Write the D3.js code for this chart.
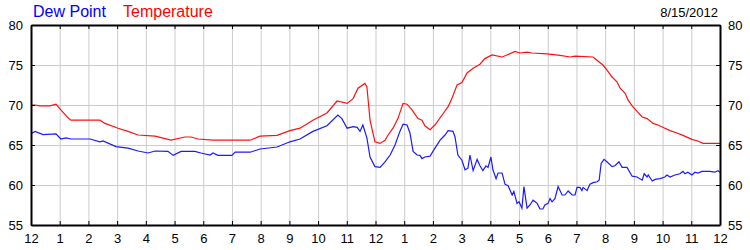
<!DOCTYPE html>
<head>
  <meta charset="utf-8">
  <script src="https://d3js.org/d3.v7.min.js"></script>
  <style>
    body { margin:0; background:white; }
    svg { display:block; font-family:"Liberation Sans", Arial, sans-serif; }
    .grid line { stroke:#cccccc; stroke-width:1; }
    .grid .domain { display:none; }
    .frame .domain { stroke:black; stroke-width:2; }
    .frame line { stroke:black; stroke-width:1; }
    .frame text { font-size:13px; fill:black; }
  </style>
</head>
<body>
<script>
// hours after midnight, 8/15/2012
var tempHours = [0,0.14,0.31,0.66,0.87,1.04,1.29,1.39,2.40,2.58,3.03,3.38,3.73,4.32,4.88,5.36,5.57,5.82,6.34,7.63,
  7.98,8.57,9.02,9.37,9.82,10.31,10.66,11.01,11.22,11.39,11.63,11.70,11.81,11.98,12.16,12.33,12.44,12.61,12.78,12.96,
  13.10,13.27,13.48,13.62,13.72,13.90,14.07,14.32,14.53,14.66,14.84,15.01,15.19,15.40,15.64,15.81,16.06,16.41,16.58,16.86,
  17.03,17.28,17.45,17.97,18.43,18.78,18.95,19.58,19.75,19.92,20.06,20.24,20.41,20.52,20.69,20.80,20.94,21.11,21.29,21.46,
  21.67,21.84,22.08,22.26,22.50,22.71,23.02,23.23,23.41,24.00];
var tempValues = [70.0,70.0,69.9,69.9,70.1,69.4,68.4,68.1,68.1,67.7,67.1,66.7,66.25,66.1,65.6,66.0,66.0,65.75,65.6,65.6,
  66.1,66.2,66.8,67.1,68.1,69.0,70.5,70.2,70.8,72.1,72.7,72.3,68.1,65.4,65.2,65.6,66.25,67.1,68.3,70.2,
  70.1,69.4,68.3,68.1,67.4,66.9,67.5,68.75,69.8,70.8,72.5,72.8,74.0,74.6,75.1,75.8,76.25,76.0,76.25,76.7,
  76.5,76.6,76.5,76.4,76.2,76.0,76.1,76.0,75.5,75.0,74.4,73.5,72.9,72.1,71.5,70.6,69.9,69.2,68.5,68.3,
  67.7,67.5,67.1,66.8,66.5,66.2,65.7,65.5,65.2,65.2];

var dewHours = [0,0.14,0.42,0.87,1.04,1.22,1.39,2.06,2.40,2.51,2.96,3.38,3.73,4.08,4.32,4.77,4.95,5.23,5.71,5.92,
  6.24,6.34,6.51,7.00,7.11,7.63,7.98,8.57,9.02,9.37,9.82,10.31,10.69,10.83,11.01,11.22,11.36,11.46,11.56,11.70,
  11.81,11.98,12.16,12.33,12.51,12.68,12.85,12.96,13.10,13.20,13.31,13.45,13.55,13.62,13.72,13.90,14.00,14.25,14.42,14.53,
  14.70,14.77,14.87,15.01,15.12,15.22,15.29,15.40,15.54,15.64,15.74,15.85,15.92,16.02,16.09,16.20,16.27,16.41,16.51,16.62,
  16.76,16.82,16.93,17.00,17.10,17.17,17.28,17.38,17.49,17.63,17.73,17.83,17.90,18.01,18.08,18.15,18.25,18.36,18.50,18.60,
  18.71,18.85,18.95,19.02,19.12,19.19,19.23,19.37,19.47,19.58,19.72,19.79,19.86,19.96,20.06,20.24,20.34,20.48,20.59,20.76,
  20.94,21.11,21.29,21.36,21.46,21.50,21.64,21.74,21.91,22.08,22.15,22.26,22.43,22.60,22.71,22.78,22.88,23.02,23.13,23.23,
  23.37,23.65,23.82,23.93,24.00];
var dewValues = [66.4,66.7,66.3,66.4,65.75,65.9,65.75,65.75,65.4,65.5,64.8,64.6,64.25,64.0,64.25,64.2,63.7,64.2,64.2,64.0,
  63.75,64.0,63.7,63.7,64.1,64.1,64.5,64.75,65.4,65.75,66.7,67.4,68.75,68.3,67.1,67.3,67.2,66.7,67.5,65.9,
  63.5,62.3,62.2,62.9,63.75,65.0,66.7,67.6,67.5,66.5,64.2,63.75,63.7,63.3,63.5,63.6,64.2,65.6,66.25,66.8,
  66.7,66.0,63.75,63.1,61.9,62.1,63.75,61.8,63.2,62.4,61.8,62.4,62.2,63.5,61.9,60.8,61.5,61.5,60.1,59.9,
  58.75,59.2,57.7,57.9,57.1,59.8,57.1,57.5,58.1,57.7,57.0,57.0,57.5,57.7,58.3,57.9,58.3,59.8,58.75,58.75,
  59.25,58.75,58.75,59.7,59.7,59.3,59.7,59.3,60.1,60.3,60.4,60.6,62.7,63.2,62.9,62.3,62.4,62.9,62.2,62.2,
  61.1,61.0,60.6,61.4,61.0,61.25,60.5,60.7,60.8,61.0,61.25,61.0,61.25,61.4,61.7,61.4,61.6,61.25,61.6,61.5,
  61.7,61.7,61.6,61.8,61.6];

var hourTicks = d3.range(0, 25);
var hourLabels = ["12","1","2","3","4","5","6","7","8","9","10","11","12","1","2","3","4","5","6","7","8","9","10","11","12"];
var valueTicks = [55, 60, 65, 70, 75, 80];
var dateLabel = "8/15/2012";

var width = 750, height = 250;
var margin = {top: 25, right: 30, bottom: 25, left: 31};
var w = width - margin.left - margin.right;
var h = height - margin.top - margin.bottom;

var svg = d3.select("body").append("svg")
  .attr("width", width)
  .attr("height", height);

var g = svg.append("g").attr("transform", "translate(" + margin.left + "," + margin.top + ")");

var x = d3.scaleLinear().domain([0, 24]).range([0, w]);
var y = d3.scaleLinear().domain([55, 80]).range([h, 0]);

// grid
g.append("g").attr("class", "grid")
  .call(d3.axisBottom(x).tickValues(hourTicks).tickSize(h).tickFormat(""));
g.append("g").attr("class", "grid")
  .call(d3.axisLeft(y).tickValues(valueTicks).tickSize(-w).tickFormat(""));

// lines
var line = d3.line()
  .x(function(d) { return x(d[0]); })
  .y(function(d) { return y(d[1]); });

g.append("path")
  .datum(d3.zip(tempHours, tempValues))
  .attr("fill", "none")
  .attr("stroke", "#ff1010")
  .attr("stroke-width", 1.2)
  .attr("d", line);

g.append("path")
  .datum(d3.zip(dewHours, dewValues))
  .attr("fill", "none")
  .attr("stroke", "#1a1aff")
  .attr("stroke-width", 1.2)
  .attr("d", line);

// frame with inward ticks
g.append("g").attr("class", "frame")
  .attr("transform", "translate(0," + h + ")")
  .call(d3.axisBottom(x).tickValues(hourTicks).tickSizeInner(-4).tickSizeOuter(0).tickPadding(9)
    .tickFormat(function(d, i) { return hourLabels[i]; }));
g.append("g").attr("class", "frame")
  .call(d3.axisTop(x).tickValues(hourTicks).tickSizeInner(-4).tickSizeOuter(0).tickFormat(""));
g.append("g").attr("class", "frame")
  .call(d3.axisLeft(y).tickValues(valueTicks).tickSizeInner(-4).tickSizeOuter(0).tickPadding(8));
g.append("g").attr("class", "frame")
  .attr("transform", "translate(" + w + ",0)")
  .call(d3.axisRight(y).tickValues(valueTicks).tickSizeInner(-4).tickSizeOuter(0).tickPadding(8));

// legend and date
svg.append("text").attr("x", 33).attr("y", 17)
  .style("font-size", "16px").attr("fill", "#0000ff").text("Dew Point");
svg.append("text").attr("x", 123).attr("y", 17)
  .style("font-size", "16px").attr("fill", "#ff0000").text("Temperature");
svg.append("text").attr("x", 718).attr("y", 17).attr("text-anchor", "end")
  .style("font-size", "13px").attr("fill", "black").text(dateLabel);
</script>
</body>
